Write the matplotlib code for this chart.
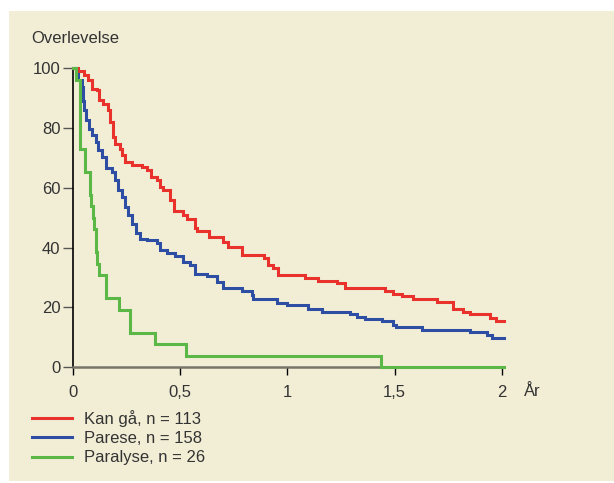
import matplotlib
matplotlib.use("Agg")
import matplotlib.pyplot as plt
from matplotlib.patches import Rectangle

plt.rcParams['font.family'] = ['Liberation Sans', 'DejaVu Sans']

# ---- data (years, survival %) ----
red_label = "Kan gå, n = 113"
red_t = [0, 0.022, 0.051, 0.071, 0.087, 0.11, 0.123, 0.141, 0.165, 0.173, 0.185, 0.196,
         0.219, 0.227, 0.243, 0.274, 0.32, 0.344, 0.362, 0.393, 0.406, 0.42, 0.452, 0.47,
         0.514, 0.53, 0.569, 0.577, 0.635, 0.701, 0.724, 0.787, 0.89, 0.911, 0.934, 0.957,
         1.082, 1.144, 1.23, 1.269, 1.455, 1.494, 1.533, 1.587, 1.696, 1.774, 1.82, 1.852,
         1.945, 1.973, 2.01]
red_s = [100, 99, 97.7, 96, 93.2, 92.6, 89.3, 88.2, 86, 82, 77, 74.8,
         73.1, 70.9, 68.7, 67.6, 67, 65.9, 63.6, 62.5, 60.3, 59.2, 55.9, 52.3,
         50.8, 49.5, 46.4, 45.6, 43.4, 41.7, 40.2, 37.5, 36.4, 34.1, 33, 30.8,
         29.7, 28.8, 28, 26.5, 25.5, 24.6, 23.7, 22.7, 21.8, 19.4, 18.5, 17.6,
         16.3, 15.4, 15.4]

blue_label = "Parese, n = 158"
blue_t = [0, 0.014, 0.023, 0.04, 0.045, 0.051, 0.061, 0.076, 0.087, 0.106, 0.118, 0.134,
          0.154, 0.18, 0.196, 0.211, 0.227, 0.243, 0.258, 0.274, 0.294, 0.312, 0.344, 0.39,
          0.406, 0.437, 0.476, 0.514, 0.546, 0.569, 0.624, 0.67, 0.701, 0.787, 0.833, 0.841,
          0.95, 0.997, 1.097, 1.16, 1.292, 1.323, 1.362, 1.44, 1.494, 1.507, 1.626, 1.852,
          1.93, 1.953, 2.01]
blue_s = [100, 98, 96, 93.7, 89, 85.9, 82.6, 79.8, 77.6, 75.4, 72.6, 70.3,
          66.5, 65.3, 62.5, 59.2, 57, 53.6, 50.8, 48, 44.7, 43, 42.5, 41.6,
          39.1, 38.2, 37.1, 35.2, 34.1, 31.3, 30.4, 28.5, 26.3, 25.3, 24.1, 22.6,
          21.5, 20.7, 19.4, 18.5, 17.7, 16.8, 16.1, 15.4, 14.0, 13.3, 12.4, 11.7,
          10.7, 9.6, 9.6]

green_label = "Paralyse, n = 26"
green_t = [0, 0.014, 0.032, 0.034, 0.056, 0.078, 0.085, 0.092, 0.1, 0.105, 0.112, 0.12,
           0.152, 0.154, 0.214, 0.266, 0.268, 0.382, 0.527, 1.438, 2.01]
green_s = [100, 96.2, 84.6, 73.1, 65.4, 57.7, 53.8, 50.0, 46.2, 38.5, 34.6, 30.8,
           26.9, 23.1, 19.2, 15.4, 11.5, 7.7, 3.8, 0, 0]

x_ticks = [0, 0.5, 1, 1.5, 2]
x_ticklabels = ["0", "0,5", "1", "1,5", "2"]
y_ticks = [0, 20, 40, 60, 80, 100]
y_ticklabels = ["0", "20", "40", "60", "80", "100"]

RED = "#e8322b"
BLUE = "#2e4ea3"
GREEN = "#5cb846"
TXT = "#333333"

W, H = 614, 483
fig = plt.figure(figsize=(W / 100, H / 100), dpi=100)
fig.patch.set_facecolor("white")
fig.add_artist(Rectangle((9 / W, 2 / H), 1 - 9 / W, (H - 11 - 2) / H,
                         transform=fig.transFigure, facecolor="#f2eed6",
                         edgecolor="none", zorder=0))

ax = fig.add_axes([73 / W, (H - 367) / H, (501.7 - 73) / W, (367 - 68.3) / H])
ax.patch.set_visible(False)

lr, = ax.step(red_t, red_s, where="post", color=RED, lw=2.2, clip_on=False,
              solid_joinstyle="miter", zorder=3, label=red_label)
lb, = ax.step(blue_t, blue_s, where="post", color=BLUE, lw=2.2, clip_on=False,
              solid_joinstyle="miter", zorder=4, label=blue_label)
lg, = ax.step(green_t, green_s, where="post", color=GREEN, lw=2.2, clip_on=False,
              solid_joinstyle="miter", zorder=5, label=green_label)

ax.set_xlim(0, 2)
ax.set_ylim(0, 100)

for s in ["top", "right"]:
    ax.spines[s].set_visible(False)
ax.spines["left"].set_color("black")
ax.spines["left"].set_linewidth(1.2)
ax.spines["bottom"].set_color("#77746a")
ax.spines["bottom"].set_linewidth(1.8)

ax.set_xticks(x_ticks)
ax.set_xticklabels(x_ticklabels)
ax.set_yticks(y_ticks)
ax.set_yticklabels(y_ticklabels)
ax.tick_params(axis="y", direction="out", length=7.5, width=1.0, color="#555555",
               labelsize=12, labelcolor=TXT, pad=1.5)
ax.tick_params(axis="x", direction="out", length=6, width=1.0, color="black",
               labelsize=12, labelcolor=TXT, pad=7)

fig.text(31.5 / W, 1 - 43.3 / H, "Overlevelse", fontsize=12, color=TXT,
         ha="left", va="baseline")
fig.text(532 / W, 1 - 391 / H, "År", fontsize=12, color=TXT, ha="center", va="center")

leg = ax.legend(handles=[lr, lb, lg], loc="center left",
                bbox_to_anchor=(32 / W, 1 - 437.7 / H), bbox_transform=fig.transFigure,
                frameon=False, borderpad=0, borderaxespad=0, handlelength=2.4,
                handletextpad=0.75, labelspacing=0.25, fontsize=12, labelcolor=TXT)

fig.savefig("out.png", dpi=100, facecolor=fig.get_facecolor())
